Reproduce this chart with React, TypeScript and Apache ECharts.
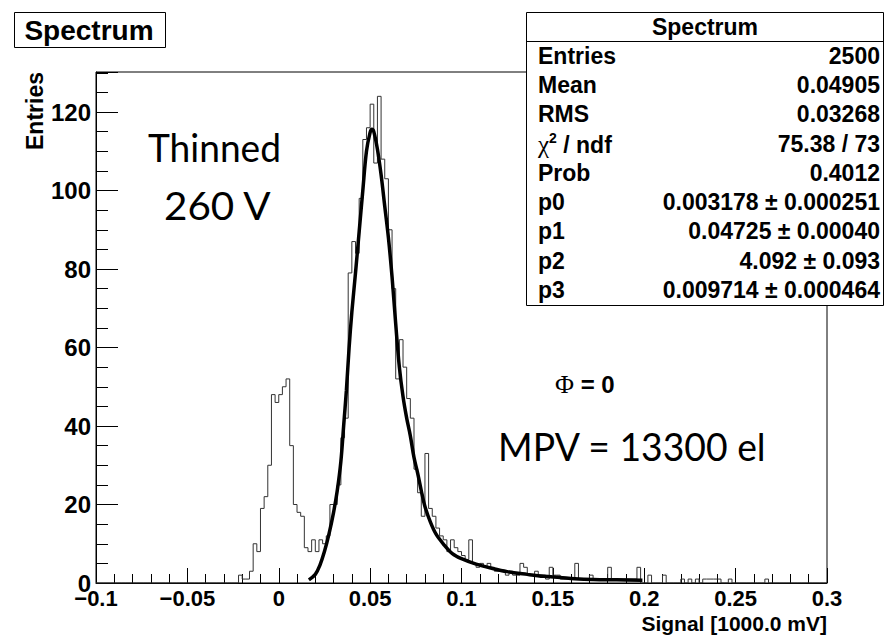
import React, { useEffect, useRef } from "react";
import * as echarts from "echarts";

// ---------------- data ----------------
const BIN_START = -0.1;
const BIN_WIDTH = 0.002;
// 200 bins of width 0.002 from -0.1 to 0.3 (counts)
const binCounts: number[] = [
  // bins 0-38 (-0.100 .. -0.022): empty
  0, 0, 0, 0, 0, 0, 0, 0, 0, 0,
  0, 0, 0, 0, 0, 0, 0, 0, 0, 0,
  0, 0, 0, 0, 0, 0, 0, 0, 0, 0,
  0, 0, 0, 0, 0, 0, 0, 0, 0,
  // bins 39-48
  2, 1, 1, 3, 10, 8, 19, 22, 30, 48,
  // 49-58
  46, 48, 50, 52, 35, 20, 18, 17, 9, 8,
  // 59-68
  11, 8, 11, 10, 12, 20, 20, 25, 37, 42,
  // 69-78
  79, 87, 84, 98, 113, 116, 122, 107, 124, 108,
  // 79-88
  103, 90, 75, 52, 62, 55, 47, 42, 29, 23,
  // 89-98
  17, 33, 19, 17, 14, 12, 11, 8, 11, 9,
  // 99-108
  8, 7, 6, 11, 5, 4, 5, 4, 5, 4,
  // 109-118
  3, 3, 3, 2, 3, 2, 2, 5, 4, 2,
  // 119-128
  2, 3, 2, 2, 1, 4, 2, 2, 1, 1,
  // 129-138
  1, 1, 5, 1, 1, 1, 2, 1, 1, 1,
  // 139-148
  1, 4, 1, 1, 1, 1, 1, 1, 1, 4,
  // 149-158
  0, 0, 2, 0, 0, 0, 2, 0, 0, 0,
  // 159-168
  0, 1, 0, 1, 0, 1, 0, 1, 1, 1,
  // 169-178
  1, 1, 0, 0, 1, 0, 0, 0, 0, 0,
  // 179-188
  0, 0, 0, 0, 1, 0, 0, 0, 0, 0,
  // 189-199
  0, 0, 0, 0, 0, 0, 0, 0, 0, 0, 0,
];

// fit curve (Landau (x) Gauss)
const fitX: number[] = [
  0.0165, 0.02, 0.0225, 0.025, 0.0275, 0.03, 0.032, 0.034, 0.0355, 0.037,
  0.0385, 0.04, 0.042, 0.044, 0.046, 0.048, 0.05, 0.051, 0.052, 0.054,
  0.056, 0.058, 0.06, 0.062, 0.064, 0.066, 0.068, 0.07, 0.072, 0.074,
  0.076, 0.078, 0.08, 0.083, 0.086, 0.09, 0.095, 0.1, 0.108, 0.117,
  0.125, 0.136, 0.145, 0.154, 0.162, 0.172, 0.185, 0.199,
];
const fitY: number[] = [
  0.8, 2.2, 4.5, 8, 12.5, 18, 23.5, 31, 40, 49,
  60, 69, 79, 89.5, 100, 110, 114.8, 115.6, 115, 110.5,
  104, 96, 88, 78, 66, 55, 47.5, 42, 37.5, 32,
  28, 23.5, 19.5, 15.5, 12.5, 10, 7.5, 6.2, 4.8, 3.7,
  2.9, 2.2, 1.7, 1.4, 1.1, 0.9, 0.8, 0.7,
];

const xTickLabels = ["\u22120.1", "\u22120.05", "0", "0.05", "0.1", "0.15", "0.2", "0.25", "0.3"];
const yTickLabels = ["0", "20", "40", "60", "80", "100", "120"];

const statsTitle = "Spectrum";
const statsLabels = ["Entries", "Mean", "RMS", "CHI", "Prob", "p0", "p1", "p2", "p3"];
const statsValues = [
  "2500",
  "0.04905",
  "0.03268",
  "75.38 / 73",
  "0.4012",
  "0.003178 \u00b1 0.000251",
  "0.04725 \u00b1 0.00040",
  "4.092 \u00b1 0.093",
  "0.009714 \u00b1 0.000464",
];

// ---------------- helpers ----------------
const SANS = '"Liberation Sans", Arial, Helvetica, sans-serif';
const SERIF = '"Liberation Serif", "Times New Roman", serif';
const NOTE = 'Lato, "Open Sans", sans-serif';

function measure(text: string, font: string): number {
  const c = document.createElement("canvas").getContext("2d");
  if (!c) return text.length * 10;
  c.font = font;
  return c.measureText(text).width;
}

function noteText(text: string, x: number, y: number, size: number, targetW: number) {
  const w = measure(text, `${size}px Lato`);
  const sx = w > 0 ? targetW / w : 1;
  return {
    type: "text",
    x,
    y,
    scaleX: sx,
    z: 60,
    style: {
      text,
      fill: "#000",
      fontFamily: NOTE,
      fontSize: size,
      fontWeight: "normal",
      align: "left",
      verticalAlign: "middle",
      textAlign: "left",
      textVerticalAlign: "middle",
    },
  };
}

function rootText(
  text: string,
  x: number,
  y: number,
  size: number,
  align: string,
  extra: any = {}
) {
  return {
    type: "text",
    x,
    y,
    z: 110,
    ...extra,
    style: {
      text,
      fill: "#000",
      fontFamily: SANS,
      fontSize: size,
      fontWeight: "bold",
      align,
      verticalAlign: "middle",
      textAlign: align,
      textVerticalAlign: "middle",
    },
  };
}

export default function App() {
  const ref = useRef<HTMLDivElement | null>(null);

  useEffect(() => {
    if (!ref.current) return;
    const chart = echarts.init(ref.current, undefined, { renderer: "svg" });

    const histData: number[][] = binCounts.map((c, i) => [
      +(BIN_START + i * BIN_WIDTH).toFixed(4),
      c,
    ]);
    histData.push([
      +(BIN_START + binCounts.length * BIN_WIDTH).toFixed(4),
      binCounts[binCounts.length - 1],
    ]);
    const fitData = fitX.map((x, i) => [x, fitY[i]]);

    const gridRect = { left: 96, top: 72, width: 731, height: 511 };

    // stats box
    const boxL = 526.5, boxT = 12.5, boxR = 883.5, boxB = 305.5, sepY = 41.5;
    const rowTop = 41, rowH = 29.3;
    const statsChildren: any[] = [
      {
        type: "rect",
        z: 100,
        shape: { x: boxL, y: boxT, width: boxR - boxL, height: boxB - boxT },
        style: { fill: "#fff", stroke: "#000", lineWidth: 1 },
      },
      {
        type: "line",
        z: 101,
        shape: { x1: boxL, y1: sepY, x2: boxR, y2: sepY },
        style: { stroke: "#000", lineWidth: 1 },
      },
      rootText(statsTitle, (boxL + boxR) / 2, 27, 23, "center"),
    ];
    statsLabels.forEach((lab, k) => {
      const cy = rowTop + rowH * (k + 0.5);
      if (lab === "CHI") {
        statsChildren.push({
          type: "text",
          x: 538,
          y: cy,
          z: 110,
          style: {
            text: "{chi|\u03c7}{sup|2}{txt| / ndf}",
            fill: "#000",
            align: "left",
            verticalAlign: "middle",
            textAlign: "left",
            textVerticalAlign: "middle",
            rich: {
              chi: { fontFamily: SERIF, fontSize: 25, fontWeight: "normal", lineHeight: 26, verticalAlign: "bottom" },
              sup: { fontFamily: SANS, fontSize: 14, fontWeight: "bold", lineHeight: 26, verticalAlign: "top" },
              txt: { fontFamily: SANS, fontSize: 23, fontWeight: "bold", lineHeight: 26, verticalAlign: "bottom" },
            },
          },
        });
      } else {
        statsChildren.push(rootText(lab, 538, cy, 23, "left"));
      }
      statsChildren.push(rootText(statsValues[k], 880, cy, 23, "right"));
    });

    const graphic: any[] = [
      // title box
      {
        type: "rect",
        z: 100,
        shape: { x: 14.5, y: 12.5, width: 151, height: 35 },
        style: { fill: "#fff", stroke: "#000", lineWidth: 1 },
      },
      rootText("Spectrum", 89, 30, 28, "center"),
      // axis titles
      rootText("Entries", 35, 72, 23, "right", { rotation: Math.PI / 2 }),
      rootText("Signal [1000.0 mV]", 827, 623, 21, "right"),
      // annotations
      noteText("Thinned", 148, 147, 38, 133),
      noteText("260 V", 164, 205, 38, 108),
      noteText("MPV = 13300 el", 498, 446, 39, 269),
      {
        type: "text",
        x: 555,
        y: 384,
        z: 60,
        style: {
          text: "{phi|\u03a6}{eq| = 0}",
          fill: "#000",
          align: "left",
          verticalAlign: "middle",
          textAlign: "left",
          textVerticalAlign: "middle",
          rich: {
            phi: { fontFamily: SERIF, fontSize: 26, fontWeight: "normal" },
            eq: { fontFamily: SANS, fontSize: 24, fontWeight: "bold" },
          },
        },
      },
      { type: "group", z: 100, children: statsChildren },
    ];

    const labelStyle = {
      fontFamily: SANS,
      fontWeight: "bold",
      fontSize: 24,
      color: "#000",
    };

    const option: any = {
      animation: false,
      backgroundColor: "#fff",
      grid: [
        { ...gridRect, show: true, borderColor: "#000", borderWidth: 1, backgroundColor: "transparent" },
        { ...gridRect, show: false },
      ],
      xAxis: [
        {
          type: "value",
          gridIndex: 0,
          min: -0.1,
          max: 0.3,
          interval: 0.05,
          axisLine: { show: true, onZero: false, lineStyle: { color: "#000", width: 1 } },
          axisTick: { show: true, inside: true, length: 15, lineStyle: { color: "#000", width: 1 } },
          minorTick: { show: true, splitNumber: 5, length: 9, lineStyle: { color: "#000", width: 1 } },
          splitLine: { show: false },
          minorSplitLine: { show: false },
          axisLabel: {
            ...labelStyle,
            fontSize: 22,
            margin: 4,
            formatter: (_v: number, i: number) => xTickLabels[i] ?? "",
          },
        },
        { type: "value", gridIndex: 1, min: -0.1, max: 0.3, show: false },
      ],
      yAxis: [
        {
          type: "value",
          gridIndex: 0,
          min: 0,
          max: 130.2,
          interval: 20,
          axisLine: { show: true, onZero: false, lineStyle: { color: "#000", width: 1 } },
          axisTick: { show: true, inside: true, length: 22, lineStyle: { color: "#000", width: 1 } },
          splitLine: { show: false },
          axisLabel: {
            ...labelStyle,
            margin: 5,
            formatter: (_v: number, i: number) => yTickLabels[i] ?? "",
          },
        },
        {
          type: "value",
          gridIndex: 1,
          min: 0,
          max: 130.2,
          interval: 5,
          axisLine: { show: false, onZero: false },
          axisTick: { show: true, inside: true, length: 12, lineStyle: { color: "#000", width: 1 } },
          axisLabel: { show: false },
          splitLine: { show: false },
        },
      ],
      series: [
        {
          type: "line",
          name: "Spectrum",
          xAxisIndex: 0,
          yAxisIndex: 0,
          data: histData,
          step: "end",
          showSymbol: false,
          symbol: "none",
          lineStyle: { color: "#333", width: 1 },
          z: 3,
        },
        {
          type: "line",
          name: "fit",
          xAxisIndex: 0,
          yAxisIndex: 0,
          data: fitData,
          smooth: 0.35,
          showSymbol: false,
          symbol: "none",
          lineStyle: { color: "#000", width: 3.5 },
          z: 4,
        },
      ],
      graphic,
    };

    chart.setOption(option);
    return () => {
      chart.dispose();
    };
  }, []);

  return (
    <div
      ref={ref}
      style={{ position: "absolute", left: 0, top: 0, width: 886, height: 635, background: "#fff" }}
    />
  );
}
